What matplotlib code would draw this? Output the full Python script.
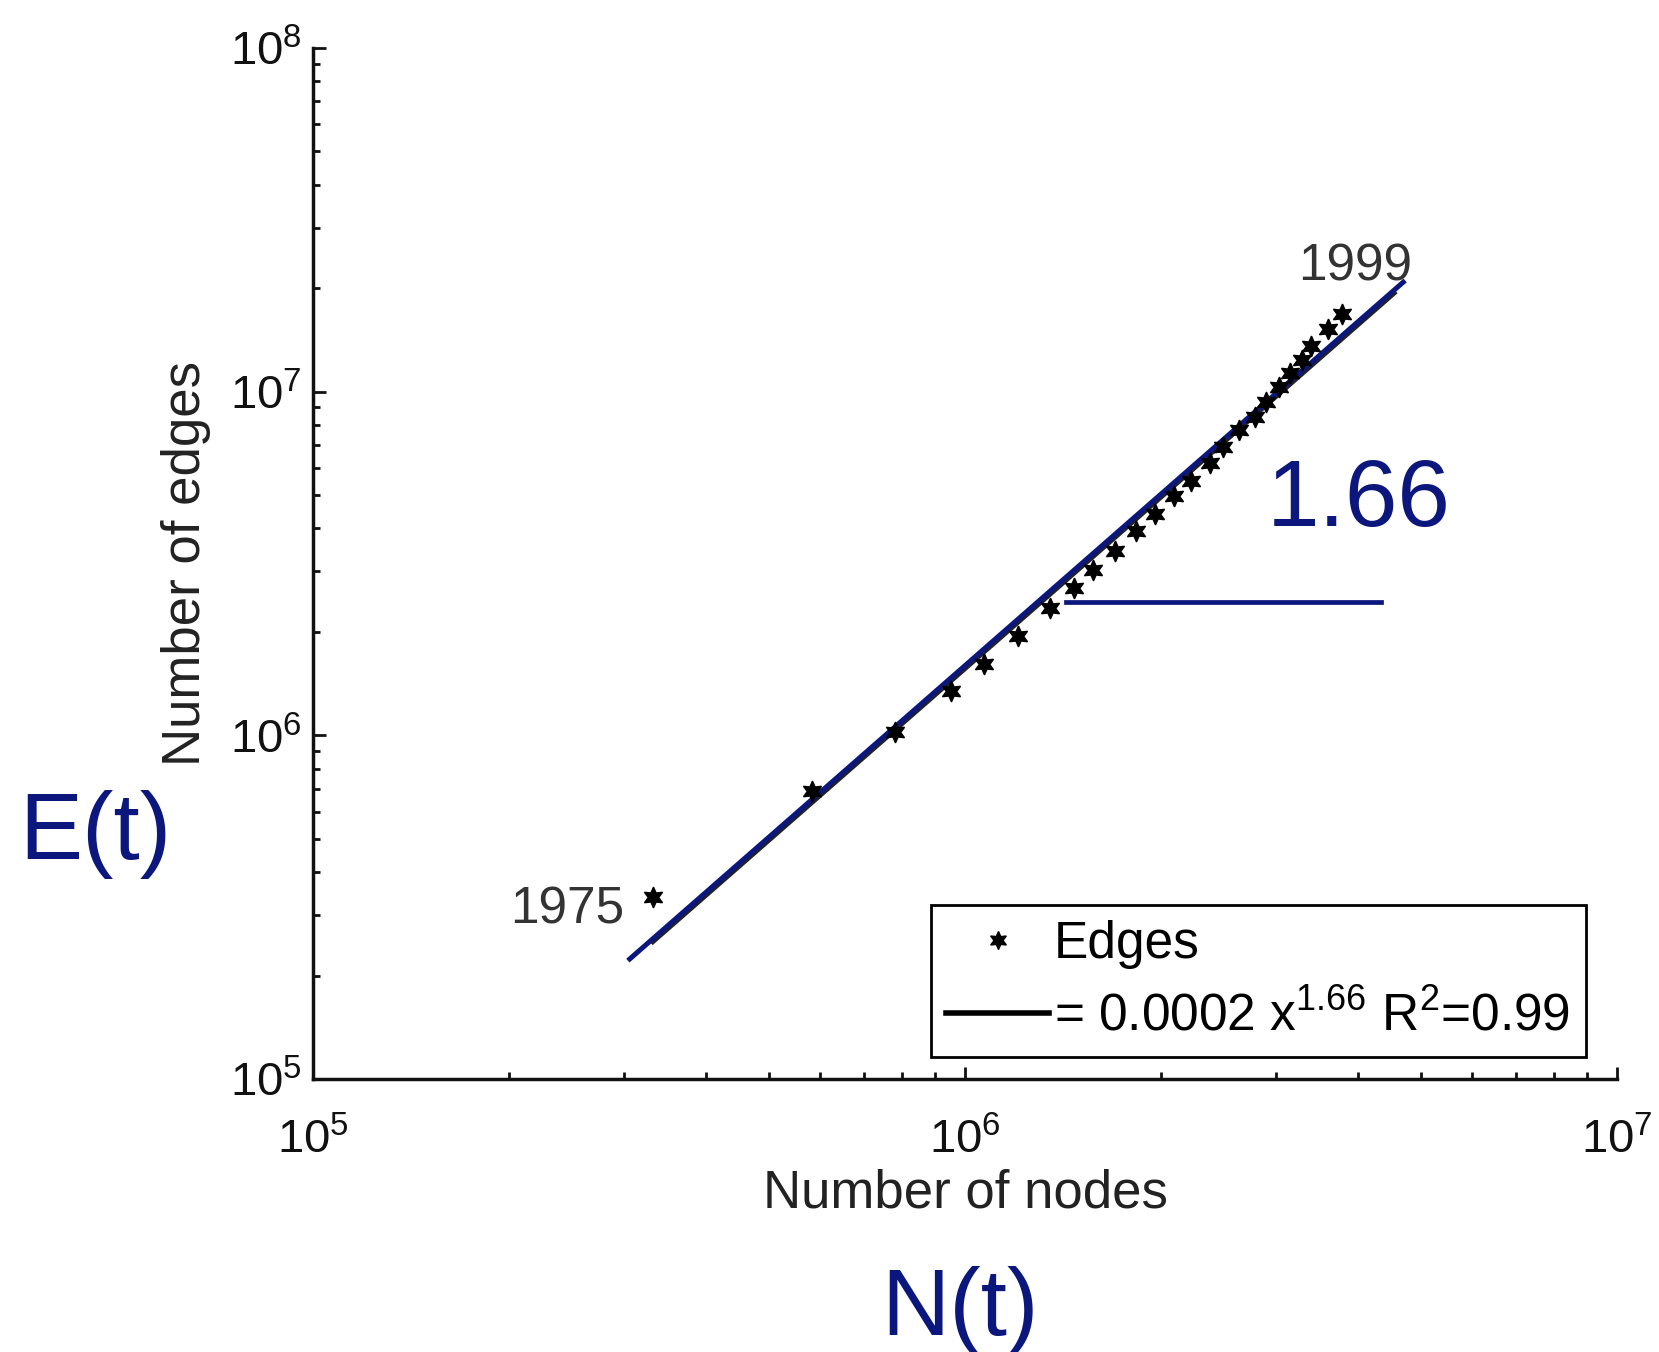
import numpy as np
import matplotlib
matplotlib.use("Agg")
import matplotlib.pyplot as plt
from matplotlib.lines import Line2D

plt.rcParams["font.family"] = ["Liberation Sans", "DejaVu Sans"]
plt.rcParams["mathtext.fontset"] = "custom"
plt.rcParams["mathtext.rm"] = "Liberation Sans"
plt.rcParams["mathtext.it"] = "Liberation Sans:italic"

# Citation graph growth, 1975 -> 1999
years = list(range(1975, 2000))
nodes = [3.32e5, 5.83e5, 7.82e5, 9.53e5, 1.069e6, 1.205e6, 1.352e6, 1.469e6,
         1.574e6, 1.698e6, 1.832e6, 1.954e6, 2.094e6, 2.218e6, 2.377e6,
         2.489e6, 2.630e6, 2.786e6, 2.897e6, 3.027e6, 3.148e6, 3.289e6,
         3.396e6, 3.597e6, 3.784e6]
edges = [3.38e5, 6.87e5, 1.02e6, 1.35e6, 1.61e6, 1.95e6, 2.34e6, 2.68e6,
         3.03e6, 3.43e6, 3.93e6, 4.40e6, 4.98e6, 5.51e6, 6.22e6, 6.89e6,
         7.71e6, 8.45e6, 9.35e6, 1.035e7, 1.132e7, 1.239e7, 1.355e7,
         1.517e7, 1.679e7]

# power-law fit E = c * N^a
fit_coef = 1.71e-4
fit_exp = 1.66
fit_x = [3.32e5, 4.56e6]
overlay_coef = 1.75e-4
overlay_x = [3.06e5, 4.70e6]
# horizontal reference segment for the slope annotation
slope_x = [1.43e6, 4.35e6]
slope_y = 2.44e6

NAVY = "#0b177c"

fig = plt.figure(figsize=(16.59, 13.52), dpi=100)
ax = fig.add_axes([0.1887, 0.2019, 0.7860, 0.7626])
ax.set_xscale("log")
ax.set_yscale("log")
ax.set_xlim(1e5, 1e7)
ax.set_ylim(1e5, 1e8)

fx = np.array(fit_x)
ax.plot(fx, fit_coef * fx ** fit_exp, color="#222222", lw=3, zorder=2)
ox = np.array(overlay_x)
ax.plot(ox, overlay_coef * ox ** fit_exp, color=NAVY, lw=3.6, zorder=3)
ax.plot(slope_x, [slope_y, slope_y], color=NAVY, lw=3.4, zorder=3)

ax.plot(nodes, edges, linestyle="none", marker=(6, 1, 0), ms=15,
        color="black", zorder=4)

ax.annotate(str(years[0]), (nodes[0], edges[0]), xytext=(-29, -26),
            textcoords="offset pixels", ha="right", va="baseline",
            fontsize=37, color="#333333")
ax.annotate(str(years[-1]), (nodes[-1], edges[-1]), xytext=(13, 34),
            textcoords="offset pixels", ha="center", va="baseline",
            fontsize=37, color="#333333")

ax.text(2.90e6, 4.06e6, "1.66", fontsize=68, color=NAVY,
        ha="left", va="baseline")

for side in ["top", "right"]:
    ax.spines[side].set_visible(False)
for side in ["left", "bottom"]:
    ax.spines[side].set_linewidth(2.5)
    ax.spines[side].set_color("#111111")

ax.tick_params(which="both", direction="in", top=False, right=False,
               colors="#111111", width=2)
ax.tick_params(which="major", length=9, labelsize=34)
ax.tick_params(which="minor", length=5)
ax.tick_params(axis="y", pad=8)
ax.tick_params(axis="x", pad=28)

ax.set_xlabel("Number of nodes", fontsize=38, color="#222222", labelpad=4)
ax.set_ylabel("Number of edges", fontsize=38, color="#222222", labelpad=14)

handles = [
    Line2D([], [], linestyle="none", marker=(6, 1, 0), ms=13, color="black"),
    Line2D([], [], color="black", lw=4),
]
labels = ["Edges", r"= 0.0002 x$^{1.66}$ R$^{2}$=0.99"]
leg = fig.legend(handles, labels, loc="lower left",
                 bbox_to_anchor=(0.561, 0.218), fontsize=37, frameon=True,
                 fancybox=False, edgecolor="black", framealpha=1,
                 handlelength=2.0, handletextpad=0.1, borderpad=0.3,
                 labelspacing=0.45, borderaxespad=0)
leg.get_frame().set_linewidth(2)

fig.text(0.0115, 0.3646, "E(t)", fontsize=68, color=NAVY,
         ha="left", va="baseline")
fig.text(0.5787, 0.0126, "N(t)", fontsize=68, color=NAVY,
         ha="center", va="baseline")

fig.savefig("out.png", dpi=100)
